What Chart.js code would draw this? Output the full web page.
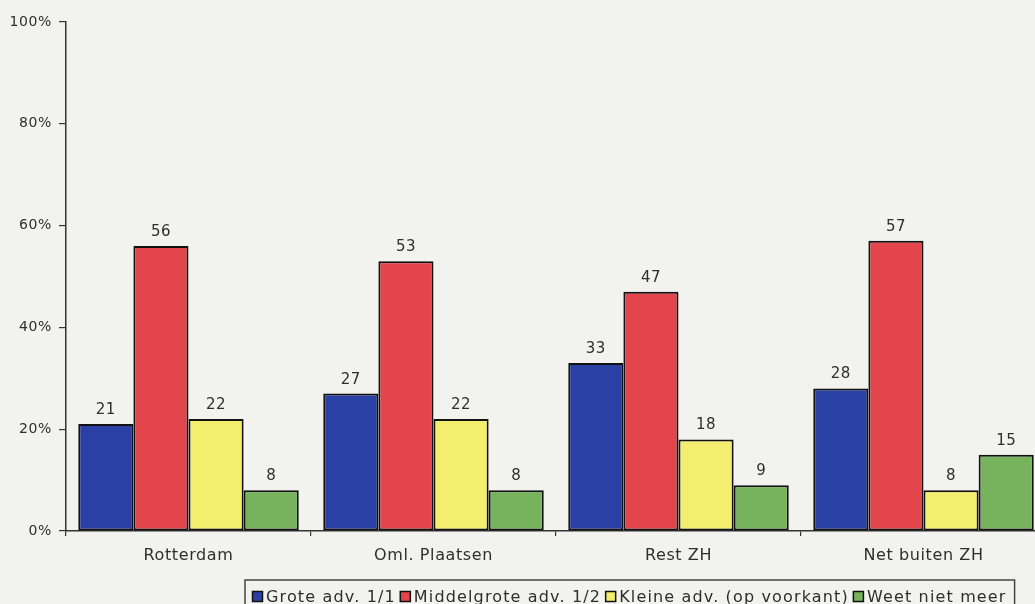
<!DOCTYPE html>
<html lang="nl">
<head>
<meta charset="utf-8">
<title>Grootte advertentie per regio</title>
<script src="https://cdn.jsdelivr.net/npm/chart.js@4.4.1/dist/chart.umd.min.js"></script>
<style>
    html, body { margin: 0; padding: 0; overflow: hidden; background: #f2f2ee; }
    #wrap { position: relative; width: 1050px; height: 604px; }
</style>
</head>
<body>
<div id="wrap"><canvas id="advChart" width="1050" height="604"></canvas></div>
<script>
const regions = ['Rotterdam', 'Oml. Plaatsen', 'Rest ZH', 'Net buiten ZH'];
const seriesNames = ['Grote adv. 1/1', 'Middelgrote adv. 1/2', 'Kleine adv. (op voorkant)', 'Weet niet meer'];
const groteAdv = [21, 27, 33, 28];
const middelgroteAdv = [56, 53, 47, 57];
const kleineAdv = [22, 22, 18, 8];
const weetNietMeer = [8, 8, 9, 15];
const yTicks = [0, 20, 40, 60, 80, 100];

(function () {
    'use strict';

    const FONT = '"DejaVu Sans", sans-serif';
    const INK = '#2e2e2e';
    const colors = ['#2b40a4', '#e2454c', '#f4ee6e', '#77b25c'];
    const seriesData = [groteAdv, middelgroteAdv, kleineAdv, weetNietMeer];

    // letterSpacing to get closer to the wide original typeface
    const spacing = {
        id: 'spacing',
        beforeDraw: function (chart) {
            chart.ctx.letterSpacing = '0.6px';
        }
    };

    const valueLabels = {
        id: 'valueLabels',
        afterDatasetsDraw: function (chart) {
            const ctx = chart.ctx;
            ctx.save();
            ctx.font = '15px ' + FONT;
            ctx.letterSpacing = '0.5px';
            ctx.fillStyle = INK;
            ctx.textAlign = 'center';
            ctx.textBaseline = 'alphabetic';
            chart.data.datasets.forEach(function (ds, i) {
                chart.getDatasetMeta(i).data.forEach(function (bar, j) {
                    ctx.fillText(String(ds.data[j]), bar.x, bar.y - 10);
                });
            });
            ctx.restore();
        }
    };

    const boxLegend = {
        id: 'boxLegend',
        afterDraw: function (chart) {
            const ctx = chart.ctx;
            const left = 245, top = 580, cy = 597, box = 11;
            ctx.save();
            ctx.font = '16px ' + FONT;
            ctx.letterSpacing = '1.15px';
            ctx.textBaseline = 'middle';
            let x = left + 7;
            chart.data.datasets.forEach(function (ds, i) {
                ctx.fillStyle = ds.backgroundColor;
                ctx.fillRect(x, cy - 6, box, box);
                ctx.strokeStyle = '#111';
                ctx.lineWidth = 1.5;
                ctx.strokeRect(x + 0.5, cy - 5.5, box - 1, box - 1);
                x += box + 3;
                ctx.fillStyle = INK;
                ctx.fillText(ds.label, x, cy + 1);
                x += ctx.measureText(ds.label).width + (i < 3 ? 4 : 0);
            });
            ctx.strokeStyle = '#444';
            ctx.lineWidth = 1.5;
            ctx.strokeRect(left, top, x + 8 - left, 40);
            ctx.restore();
        }
    };

    new Chart(document.getElementById('advChart'), {
        type: 'bar',
        data: {
            labels: regions,
            datasets: seriesData.map(function (values, i) {
                return {
                    label: seriesNames[i],
                    data: values,
                    backgroundColor: colors[i],
                    borderColor: '#111',
                    borderWidth: 2,
                    borderSkipped: false,
                    categoryPercentage: 0.9,
                    barPercentage: 1.0
                };
            })
        },
        options: {
            responsive: false,
            animation: false,
            devicePixelRatio: 1,
            layout: { padding: { left: 0, top: 22, right: 4, bottom: 33 } },
            plugins: {
                legend: { display: false },
                tooltip: { enabled: false }
            },
            scales: {
                x: {
                    grid: {
                        offset: true,
                        drawOnChartArea: false,
                        drawTicks: true,
                        tickLength: 5,
                        color: '#333',
                        lineWidth: 1.2
                    },
                    border: { color: '#333', width: 1.5 },
                    ticks: {
                        color: INK,
                        font: { family: FONT, size: 16 },
                        padding: 10,
                        maxRotation: 0
                    },
                    afterFit: function (scale) { scale.height = 40; }
                },
                y: {
                    min: 0,
                    max: 100,
                    afterBuildTicks: function (scale) {
                        scale.ticks = yTicks.map(function (v) { return { value: v }; });
                    },
                    grid: {
                        drawOnChartArea: false,
                        drawTicks: true,
                        tickLength: 7,
                        color: '#333',
                        lineWidth: 1.2
                    },
                    border: { color: '#333', width: 1.5 },
                    ticks: {
                        color: INK,
                        font: { family: FONT, size: 14 },
                        padding: 7,
                        callback: function (value) { return value + '%'; }
                    },
                    afterFit: function (scale) { scale.width = 66; }
                }
            }
        },
        plugins: [spacing, valueLabels, boxLegend]
    });
})();
</script>
</body>
</html>
